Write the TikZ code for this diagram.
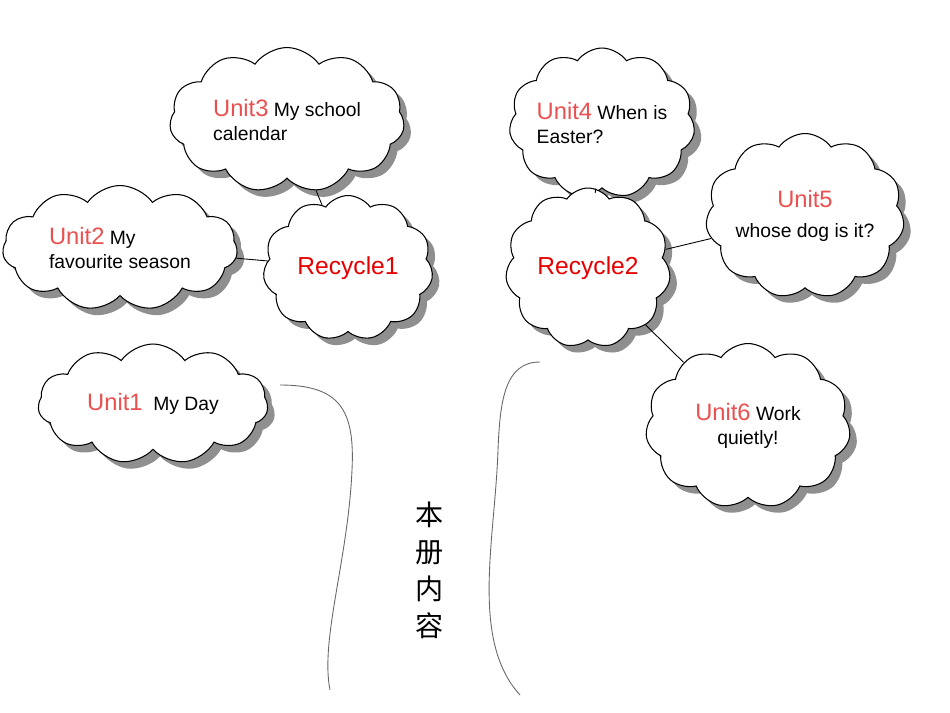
\documentclass[tikz,border=0pt]{standalone}
\usepackage{fontspec}
\setmainfont{Liberation Sans}
\newfontfamily\cjk{Noto Sans CJK SC}
\usetikzlibrary{shapes.symbols,shadows}
\definecolor{ured}{RGB}{235,80,80}
\definecolor{rred}{RGB}{230,0,0}
\newcommand{\ulab}[1]{\textcolor{ured}{\fontsize{13.5}{15}\selectfont #1}}
\newcommand{\rlab}[1]{\textcolor{rred}{\fontsize{14}{16}\selectfont #1}}
\begin{document}
\begin{tikzpicture}[x=0.02cm,y=-0.02cm,
  cl/.style={cloud,cloud puffs=11,cloud puff arc=110,cloud ignores aspect,draw=black,fill=white,line width=0.6pt,
    drop shadow={shadow xshift=4pt,shadow yshift=-4pt,fill=black!55,opacity=0.8},
    align=left,font=\fontsize{11}{14}\selectfont,inner sep=0pt},
  ln/.style={draw=black,line width=0.5pt},
  tr/.style={draw=black!60,line width=0.5pt}]
\useasboundingbox (0,0) rectangle (950,713);
\draw[tr] (280,385) .. controls (340,385) and (355,410) .. (352,470) .. controls (348,560) and (320,640) .. (330,690);
\draw[tr] (540,362) .. controls (505,362) and (500,400) .. (498,450) .. controls (495,540) and (470,640) .. (520,695);
\node[cl,minimum width=4.7cm,minimum height=2.9cm] (u3) at (287,120) {\ulab{Unit3} My school\\calendar};
\node[cl,minimum width=4.7cm,minimum height=2.5cm] (u2) at (120,248) {\ulab{Unit2} My\\favourite season};
\node[cl,minimum width=4.6cm,minimum height=2.4cm] (u1) at (153,404) {\ulab{Unit1}\ \ My Day};
\node[cl,minimum width=3.4cm,minimum height=2.9cm] (r1) at (348,268) {\rlab{Recycle1}};
\node[cl,minimum width=3.7cm,minimum height=3.0cm] (u4) at (602,123) {\ulab{Unit4} When is\\Easter?};
\node[cl,minimum width=3.8cm,minimum height=3.3cm,align=center] (u5) at (805,216) {\ulab{Unit5}\\[3pt]whose dog is it?};
\node[cl,minimum width=3.3cm,minimum height=3.2cm] (r2) at (588,268) {\rlab{Recycle2}};
\node[cl,minimum width=4.1cm,minimum height=3.3cm,align=center] (u6) at (748,426) {\ulab{Unit6} Work\\quietly!};
\draw[ln] (u3) -- (r1);
\draw[ln] (u2) -- (r1);
\draw[ln] (u4) -- (r2);
\draw[ln] (u5) -- (r2);
\draw[ln] (r2) -- (u6);
\node[align=center,font=\cjk\fontsize{16}{21}\selectfont] (t) at (430,570) {本\\册\\内\\容};
\end{tikzpicture}
\end{document}
